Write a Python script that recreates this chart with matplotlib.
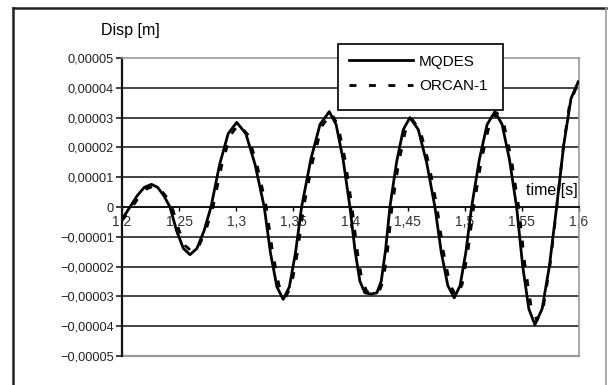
import matplotlib
matplotlib.use("Agg")
import matplotlib.pyplot as plt
from matplotlib.patches import Rectangle
from matplotlib.lines import Line2D

plt.rcParams['font.family'] = ['Liberation Sans', 'DejaVu Sans']

# ---- data (displacement in units of 1e-5 m) ----
mq_t = [1.2000, 1.2035, 1.2070, 1.2133, 1.2195, 1.2258, 1.2312, 1.2366, 1.2420,
        1.2478, 1.2537, 1.2595, 1.2656, 1.2718, 1.2779, 1.2854, 1.2929, 1.3004,
        1.3084, 1.3165, 1.3245, 1.3300, 1.3356, 1.3411, 1.3465, 1.3518, 1.3572,
        1.3653, 1.3733, 1.3814, 1.3874, 1.3935, 1.3995, 1.4039, 1.4082, 1.4126,
        1.4180, 1.4231, 1.4269, 1.4307, 1.4345, 1.4403, 1.4462, 1.4520, 1.4593,
        1.4666, 1.4739, 1.4795, 1.4852, 1.4908, 1.4959, 1.5009, 1.5060, 1.5128,
        1.5196, 1.5264, 1.5327, 1.5391, 1.5454, 1.5507, 1.5561, 1.5614, 1.5677,
        1.5741, 1.5804, 1.5867, 1.5930, 1.5993]
mq_v = [-0.40, -0.21, 0.00, 0.38, 0.66, 0.76, 0.66, 0.38, 0.00,
        -0.80, -1.39, -1.60, -1.39, -0.80, 0.00, 1.42, 2.46, 2.84,
        2.46, 1.42, 0.00, -1.55, -2.68, -3.10, -2.68, -1.55, 0.00,
        1.60, 2.77, 3.20, 2.77, 1.60, 0.00, -1.44, -2.49, -2.88,
        -2.92, -2.88, -2.49, -1.44, 0.00, 1.50, 2.60, 3.00, 2.60,
        1.50, 0.00, -1.53, -2.64, -3.05, -2.64, -1.53, 0.00, 1.60,
        2.77, 3.20, 2.77, 1.60, 0.00, -1.98, -3.42, -3.95, -3.42,
        -1.98, 0.00, 2.10, 3.64, 4.20]

orc_t = [1.2000, 1.2050, 1.2090, 1.2150, 1.2212, 1.2275, 1.2330, 1.2384, 1.2438,
         1.2496, 1.2555, 1.2612, 1.2674, 1.2736, 1.2797, 1.2872, 1.2947, 1.3022,
         1.3102, 1.3183, 1.3263, 1.3318, 1.3374, 1.3429, 1.3483, 1.3536, 1.3590,
         1.3671, 1.3751, 1.3832, 1.3892, 1.3953, 1.4013, 1.4057, 1.4100, 1.4144,
         1.4198, 1.4249, 1.4287, 1.4325, 1.4363, 1.4421, 1.4480, 1.4538, 1.4611,
         1.4684, 1.4757, 1.4813, 1.4870, 1.4926, 1.4977, 1.5027, 1.5078, 1.5146,
         1.5214, 1.5282, 1.5345, 1.5409, 1.5472, 1.5525, 1.5579, 1.5632, 1.5690,
         1.5748, 1.5806, 1.5862, 1.5918, 1.5975]
orc_v = [-0.45, -0.20, 0.00, 0.35, 0.60, 0.70, 0.62, 0.36, 0.00,
         -0.75, -1.30, -1.50, -1.31, -0.76, 0.00, 1.38, 2.40, 2.78,
         2.42, 1.40, 0.00, -1.52, -2.63, -3.04, -2.64, -1.52, 0.00,
         1.57, 2.72, 3.15, 2.73, 1.58, 0.00, -1.42, -2.46, -2.84,
         -2.90, -2.86, -2.47, -1.43, 0.00, 1.47, 2.55, 2.95, 2.56,
         1.48, 0.00, -1.50, -2.60, -3.00, -2.60, -1.50, 0.00, 1.58,
         2.74, 3.16, 2.74, 1.58, 0.00, -1.90, -3.30, -3.80, -3.30,
         -1.90, 0.00, 2.00, 3.46, 4.00]

x_ticks = [1.2, 1.25, 1.3, 1.35, 1.4, 1.45, 1.5, 1.55, 1.6]
x_labels = ["1,2", "1,25", "1,3", "1,35", "1,4", "1,45", "1,5", "1,55", "1,6"]
y_ticks = [5, 4, 3, 2, 1, 0, -1, -2, -3, -4, -5]
y_labels = ["0,00005", "0,00004", "0,00003", "0,00002", "0,00001", "0",
            "\u22120,00001", "\u22120,00002", "\u22120,00003", "\u22120,00004", "\u22120,00005"]
series_names = ["MQDES", "ORCAN-1"]

W, H = 616, 385
fig = plt.figure(figsize=(W / 100, H / 100), dpi=100)
fig.patch.set_facecolor('white')

# outer frame lines
fig.add_artist(Line2D([13 / W, 13 / W], [0, 1 - 8 / H], color='#222222', lw=1.8, transform=fig.transFigure))
fig.add_artist(Line2D([13 / W, 606 / W], [1 - 8 / H, 1 - 8 / H], color='#222222', lw=1.8, transform=fig.transFigure))
fig.add_artist(Line2D([606 / W, 606 / W], [0, 1 - 8 / H], color='#999999', lw=1.2, transform=fig.transFigure))

ax = fig.add_axes([122 / W, 1 - 356 / H, (579 - 122) / W, (356 - 58) / H])
ax.set_xlim(1.2, 1.6)
ax.set_ylim(-5, 5)

# grid lines
for yv in [4, 3, 2, 1, -1, -2, -3, -4]:
    ax.axhline(yv, color='#222222', lw=1.2, zorder=1)
ax.axhline(-5, color='#999999', lw=1.6, zorder=1, clip_on=False)

for s in ['top', 'right']:
    ax.spines[s].set_color('#999999')
    ax.spines[s].set_linewidth(1.2)
ax.spines['left'].set_color('#111111')
ax.spines['left'].set_linewidth(1.6)
ax.spines['bottom'].set_position(('data', 0))
ax.spines['bottom'].set_color('#111111')
ax.spines['bottom'].set_linewidth(1.4)

ax.set_yticks(y_ticks)
ax.set_yticklabels(y_labels, fontsize=9.2)
ax.set_xticks(x_ticks)
ax.set_xticklabels(x_labels, fontsize=10, color='#333333')
ax.tick_params(axis='y', direction='out', length=4, width=1.2, pad=2, colors='#222222')
ax.tick_params(axis='x', direction='out', length=3, width=1, pad=3)

l1, = ax.plot(mq_t, mq_v, color='black', lw=2.0, zorder=4, label=series_names[0])
l2, = ax.plot(orc_t, orc_v, color='black', lw=2.0, ls=(0, (2.5, 4.5)), zorder=4, label=series_names[1])

ax.text(0.998, 0.555, "time [s]", transform=ax.transAxes, ha='right', va='center', fontsize=11.5, zorder=3)
fig.text(130 / W, 1 - 31 / H, "Disp [m]", ha='center', va='center', fontsize=11.5)

# legend box
fig.add_artist(Rectangle((338 / W, 1 - 110 / H), (503 - 338) / W, 66 / H, transform=fig.transFigure,
                         facecolor='white', edgecolor='#111111', lw=1.3, zorder=3))
leg = fig.legend(handles=[l1, l2], loc='upper left', bbox_to_anchor=(338 / W, 1 - 44 / H),
                 frameon=False, fontsize=11, handlelength=4.2, handletextpad=0.4,
                 borderpad=0.7, labelspacing=0.7, borderaxespad=0)
leg.set_zorder(6)

fig.savefig("out.png", dpi=100)
